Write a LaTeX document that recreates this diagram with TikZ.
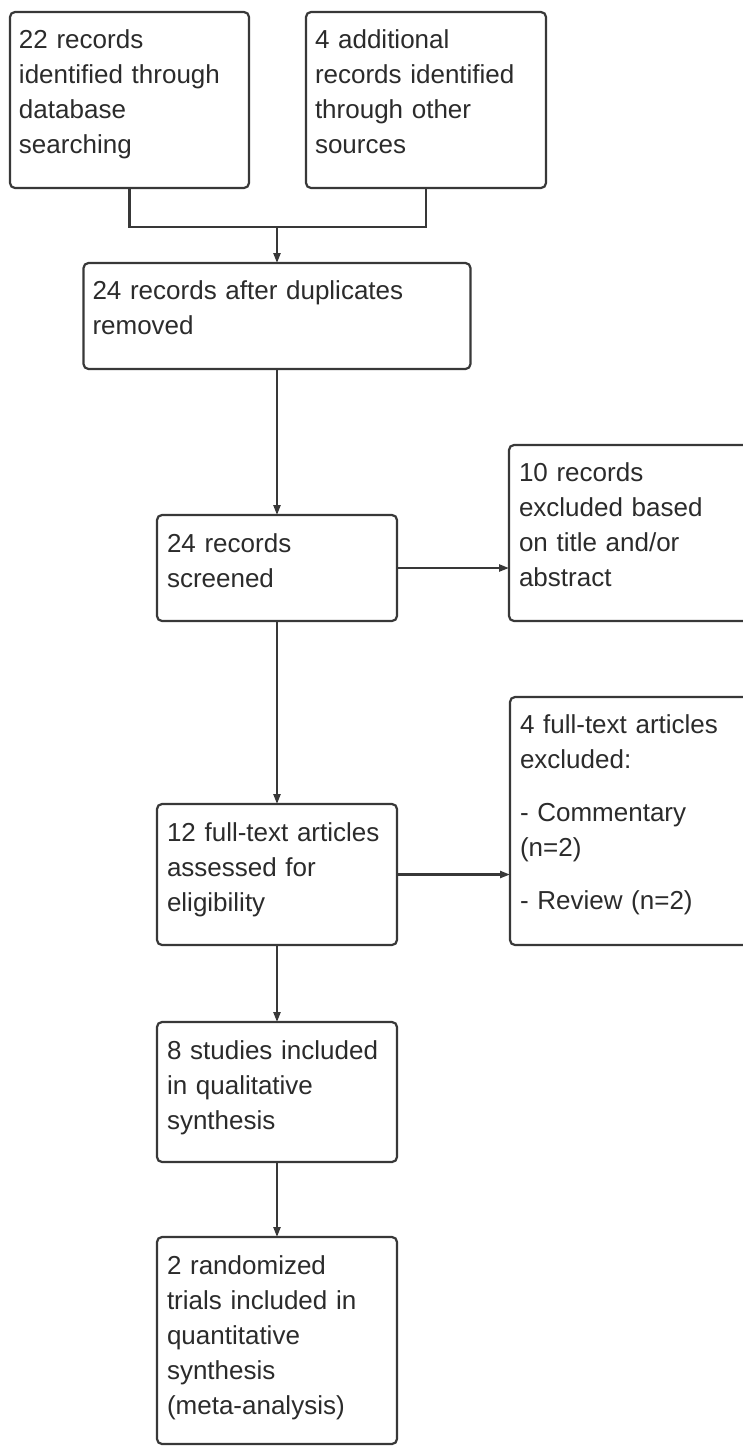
\documentclass[tikz,border=0pt]{standalone}
\usepackage{fontspec}
\setmainfont{Liberation Sans}
\usetikzlibrary{arrows.meta}
\definecolor{edgecol}{gray}{0.22}
\definecolor{textcol}{gray}{0.17}
\tikzset{
  box/.style={draw=edgecol, line width=2.2pt, rounded corners=5pt, inner sep=0pt, outer sep=0pt, fill=white},
  txt/.style={anchor=base west, inner sep=0pt, outer sep=0pt, align=left, text=textcol,
    font=\fontsize{26}{35}\selectfont},
  conn/.style={draw=edgecol, line width=2.2pt},
  arr/.style={conn, -{Triangle[length=10pt,width=7pt]}}
}
\begin{document}
\begin{tikzpicture}[x=1pt,y=-1pt]
\clip (0,0) rectangle (743,1446);
\fill[white] (0,0) rectangle (743,1446);
% boxes
\node[box, minimum width=239pt, minimum height=176pt] (b1) at (129.5,100) {};
\node[box, minimum width=240pt, minimum height=176pt] (b2) at (426,100) {};
\node[box, minimum width=387pt, minimum height=106pt] (b3) at (277,316) {};
\node[box, minimum width=240pt, minimum height=106pt] (b4) at (277,568) {};
\node[box, minimum width=246pt, minimum height=176pt] (b5) at (632,533) {};
\node[box, minimum width=240pt, minimum height=141pt] (b6) at (277,874.5) {};
\node[box, minimum width=245pt, minimum height=248pt] (b7) at (632.5,821) {};
\node[box, minimum width=240pt, minimum height=140pt] (b8) at (277,1092) {};
\node[box, minimum width=240pt, minimum height=207pt] (b9) at (277,1340.5) {};
% texts
\node[txt, text width=230pt] (t1) at ([shift={(9,36)}]b1.north west) {22 records\\identified through\\database\\searching};
\node[txt, text width=230pt] (t2) at ([shift={(9,36)}]b2.north west) {4 additional\\records identified\\through other\\sources};
\node[txt, text width=370pt] (t3) at ([shift={(9,36)}]b3.north west) {24 records after duplicates\\removed};
\node[txt, text width=230pt] (t4) at ([shift={(10,37)}]b4.north west) {24 records\\screened};
\node[txt, text width=236pt] (t5) at ([shift={(10,36)}]b5.north west) {10 records\\excluded based\\on title and/or\\abstract};
\node[txt, text width=230pt] (t6) at ([shift={(10,37)}]b6.north west) {12 full-text articles\\assessed for\\eligibility};
\node[txt, text width=236pt] (t7) at ([shift={(10,36)}]b7.north west) {4 full-text articles\\excluded:\\[18pt]- Commentary\\(n=2)\\[18pt]- Review (n=2)};
\node[txt, text width=230pt] (t8) at ([shift={(10,37)}]b8.north west) {8 studies included\\in qualitative\\synthesis};
\node[txt, text width=230pt] (t9) at ([shift={(10,37)}]b9.north west) {2 randomized\\trials included in\\quantitative\\synthesis\\(meta-analysis)};
% connectors
\coordinate (m) at (277,227);
\draw[conn] (b1.south) |- (m) -| (b2.south);
\draw[arr] (m) -- (b3.north);
\draw[arr] (b3.south) -- (b4.north);
\draw[arr] (b4.east) -- (b4.east -| b5.west);
\draw[arr] (b4.south) -- (b6.north);
\draw[arr] (b6.east) -- (b6.east -| b7.west);
\draw[arr] (b6.south) -- (b8.north);
\draw[arr] (b8.south) -- (b9.north);
\end{tikzpicture}
\end{document}
